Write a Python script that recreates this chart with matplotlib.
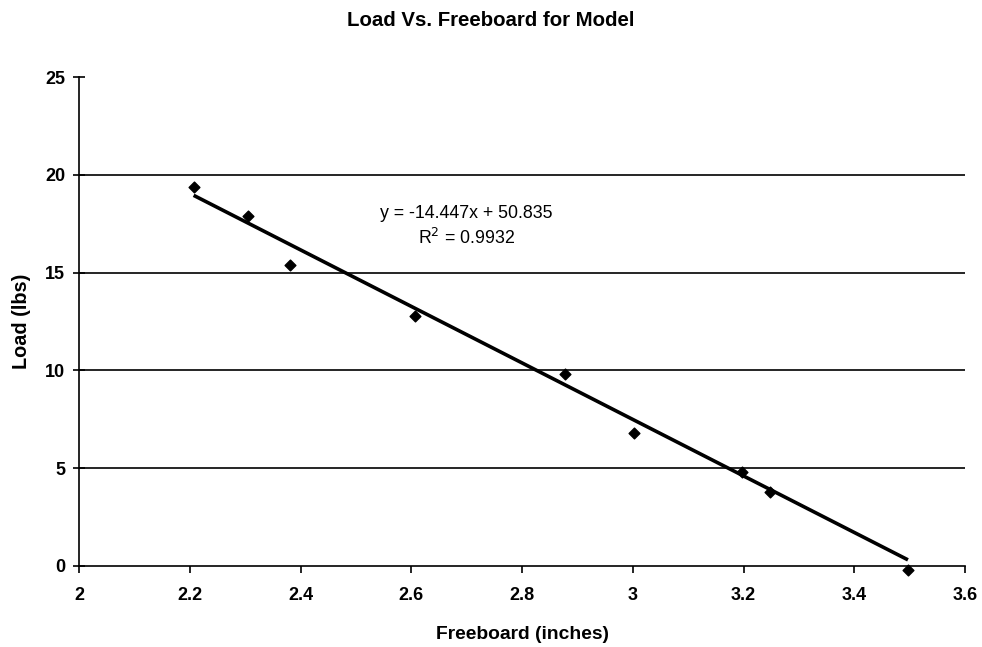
import matplotlib
matplotlib.use("Agg")
import matplotlib.pyplot as plt
import numpy as np

plt.rcParams['font.family'] = ['Liberation Sans', 'DejaVu Sans']

# Measured freeboard vs. applied load
freeboard = [2.207, 2.305, 2.381, 2.607, 2.878, 3.002, 3.197, 3.248, 3.497]
load = [19.4, 17.9, 15.4, 12.8, 9.8, 6.8, 4.8, 3.8, -0.2]

# Linear trendline coefficients
slope = -14.447
intercept = 50.835
r_squared = 0.9932

x_ticks = [2, 2.2, 2.4, 2.6, 2.8, 3, 3.2, 3.4, 3.6]
x_tick_labels = ['2', '2.2', '2.4', '2.6', '2.8', '3', '3.2', '3.4', '3.6']
y_ticks = [0, 5, 10, 15, 20, 25]

fig = plt.figure(figsize=(9.82, 6.47), dpi=100)
ax = fig.add_axes([79 / 982, 1 - 566 / 647, (965 - 79) / 982, (566 - 77) / 647])

ax.set_xlim(2, 3.6)
ax.set_ylim(0, 25)

for yv in y_ticks[1:-1]:
    ax.axhline(yv, color='black', lw=1.2, zorder=1)

xs = np.array([min(freeboard), max(freeboard)])
ax.plot(xs, slope * xs + intercept, color='black', lw=2.6, zorder=2,
        solid_capstyle='butt')
ax.scatter(freeboard, load, marker='D', s=30, color='black', zorder=3,
           clip_on=False)

ax.text(2.699, 18.0, f"y = {slope}x + {intercept}", ha='center', va='center',
        fontsize=12.8)
ax.text(2.699, 16.75, f"R$^2$ = {r_squared}", ha='center', va='center',
        fontsize=12.8)

ax.spines['top'].set_visible(False)
ax.spines['right'].set_visible(False)
ax.spines['left'].set_linewidth(1.2)
ax.spines['bottom'].set_linewidth(1.2)

ax.set_xticks(x_ticks)
ax.set_xticklabels(x_tick_labels)
ax.set_yticks(y_ticks)
ax.tick_params(axis='x', direction='out', length=5, width=1.2,
               labelsize=13, pad=10)
ax.tick_params(axis='y', direction='inout', length=8, width=1.2,
               labelsize=13, pad=6)
for lbl in ax.get_xticklabels() + ax.get_yticklabels():
    lbl.set_fontweight('bold')

ax.set_xlabel('Freeboard (inches)', fontsize=13.9, fontweight='bold', labelpad=16)
ax.set_ylabel('Load (lbs)', fontsize=14.3, fontweight='bold', labelpad=10)
fig.text(0.5, 1 - 21 / 647, 'Load Vs. Freeboard for Model', ha='center',
         va='center', fontsize=14.7, fontweight='bold')

fig.savefig('out.png', dpi=100)
